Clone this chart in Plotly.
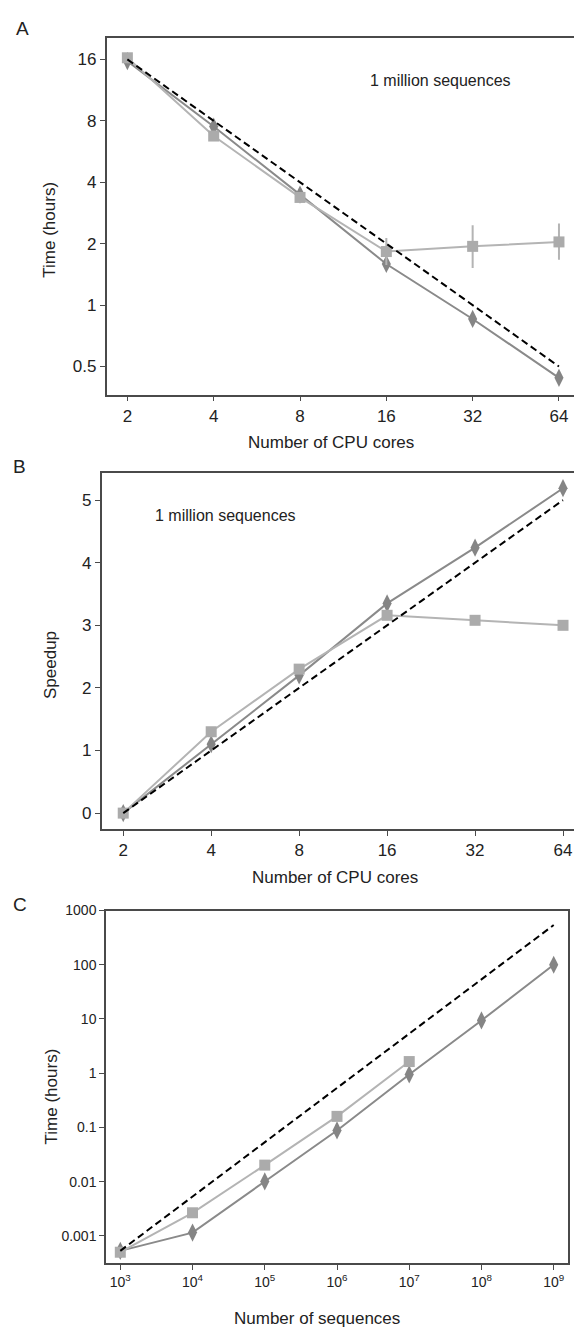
import plotly.graph_objects as go

# ---------------- data ----------------
cores = [2, 4, 8, 16, 32, 64]
core_labels = ["2", "4", "8", "16", "32", "64"]

# Panel A: time (hours), 1 million sequences
timeA_dark = [15.7, 7.5, 3.48, 1.59, 0.855, 0.44]
timeA_light = [16.3, 6.74, 3.37, 1.83, 1.94, 2.04]
timeA_light_err_plus = [0, 0, 0, 0.30, 0.52, 0.47]
timeA_light_err_minus = [0, 0, 0, 0.26, 0.42, 0.37]
timeA_ideal = [16, 8, 4, 2, 1, 0.5]
yA_ticks = [0.5, 1, 2, 4, 8, 16]
yA_labels = ["0.5", "1", "2", "4", "8", "16"]

# Panel B: speedup
speedB_dark = [0, 1.1, 2.2, 3.35, 4.24, 5.19]
speedB_light = [0, 1.3, 2.3, 3.16, 3.08, 3.0]
speedB_ideal = [0, 1, 2, 3, 4, 5]
yB_ticks = [0, 1, 2, 3, 4, 5]

# Panel C: time vs number of sequences
seqs = [1e3, 1e4, 1e5, 1e6, 1e7, 1e8, 1e9]
seq_labels = ["10<sup>3</sup>", "10<sup>4</sup>", "10<sup>5</sup>", "10<sup>6</sup>",
              "10<sup>7</sup>", "10<sup>8</sup>", "10<sup>9</sup>"]
timeC_dark = [0.00053, 0.00115, 0.0101, 0.088, 0.95, 9.4, 100]
seqs_light = [1e3, 1e4, 1e5, 1e6, 1e7]
timeC_light = [0.0005, 0.00267, 0.0202, 0.16, 1.64]
seqs_ideal = [1e3, 1e9]
timeC_ideal = [0.00053, 540]
yC_ticks = [0.001, 0.01, 0.1, 1, 10, 100, 1000]
yC_labels = ["0.001", "0.01", "0.1", "1", "10", "100", "1000"]

# ---------------- style ----------------
W, H = 575, 1329
FONT = "Liberation Sans, Arial, sans-serif"
DARK = "#8a8a8a"
LIGHT = "#b4b4b4"
DARK_M = "#858585"
LIGHT_M = "#ababab"
AXC = "#4a4a4a"


def px(x):
    return x / W


def py(y):
    return 1 - y / H


fig = go.Figure()


def add_panel(xs, dark, light, ideal, xref, yref, xs_light=None, xs_ideal=None, err=None):
    xs_light = xs if xs_light is None else xs_light
    xs_ideal = xs if xs_ideal is None else xs_ideal
    fig.add_trace(go.Scatter(
        x=xs, y=dark, mode="lines+markers", xaxis=xref, yaxis=yref,
        line=dict(color=DARK, width=2),
        marker=dict(symbol="diamond-tall", size=13, color=DARK_M),
        showlegend=False, cliponaxis=False))
    tr = dict(
        x=xs_light, y=light, mode="lines+markers", xaxis=xref, yaxis=yref,
        line=dict(color=LIGHT, width=2),
        marker=dict(symbol="square", size=11, color=LIGHT_M),
        showlegend=False, cliponaxis=False)
    if err is not None:
        tr["error_y"] = dict(type="data", array=err[0], arrayminus=err[1],
                             color=LIGHT, thickness=2, width=0, symmetric=False)
    fig.add_trace(go.Scatter(**tr))
    fig.add_trace(go.Scatter(
        x=xs_ideal, y=ideal, mode="lines", xaxis=xref, yaxis=yref,
        line=dict(color="black", width=2, dash="7px,4px"),
        showlegend=False, cliponaxis=False))


add_panel(cores, timeA_dark, timeA_light, timeA_ideal, "x", "y",
          err=(timeA_light_err_plus, timeA_light_err_minus))
add_panel(cores, speedB_dark, speedB_light, speedB_ideal, "x2", "y2")
add_panel(seqs, timeC_dark, timeC_light, timeC_ideal, "x3", "y3",
          xs_light=seqs_light, xs_ideal=seqs_ideal)

axis_common = dict(showgrid=False, zeroline=False, showline=True, linecolor=AXC,
                   linewidth=1.5, ticks="outside", ticklen=5, tickwidth=1.3,
                   tickcolor=AXC, color="#222")

layout = dict(
    width=W, height=H, autosize=False,
    margin=dict(l=0, r=0, t=0, b=0, pad=0),
    paper_bgcolor="white", plot_bgcolor="white",
    font=dict(family=FONT, color="#222", size=16),
    xaxis=dict(**axis_common, type="log", domain=[px(106.5), px(574)], anchor="y",
               range=[0.2282, 1.8586], tickvals=cores, ticktext=core_labels,
               mirror=True, tickfont=dict(size=17)),
    yaxis=dict(**axis_common, type="log", domain=[py(389), py(30)], anchor="x",
               range=[-0.439, 1.310], tickvals=yA_ticks, ticktext=yA_labels,
               tickfont=dict(size=17)),
    xaxis2=dict(**axis_common, type="log", domain=[px(101.7), px(574)], anchor="y2",
                range=[0.2273, 1.8438], tickvals=cores, ticktext=core_labels,
                mirror=True, tickfont=dict(size=17)),
    yaxis2=dict(**axis_common, domain=[py(826), py(468)], anchor="x2",
                range=[-0.254, 5.43], tickvals=yB_ticks, tickfont=dict(size=17)),
    xaxis3=dict(**axis_common, type="log", domain=[px(106), px(568)], anchor="y3",
                range=[2.802, 9.198], tickvals=seqs, ticktext=seq_labels,
                mirror=True, tickfont=dict(size=14)),
    yaxis3=dict(**axis_common, type="log", domain=[py(1263), py(908)], anchor="x3",
                range=[-3.507, 3.0], tickvals=yC_ticks, ticktext=yC_labels,
                mirror=True, tickfont=dict(size=14)),
)
fig.update_layout(**layout)


def ann(text, x, y, size=17, angle=0, xanchor="center"):
    fig.add_annotation(text=text, x=px(x), y=py(y), xref="paper", yref="paper",
                       showarrow=False, xanchor=xanchor, yanchor="middle",
                       textangle=angle, font=dict(size=size, family=FONT, color="#222"))


# panel letters
ann("A", 22, 21, size=19)
ann("B", 19, 461, size=19)
ann("C", 20, 902, size=19)
# axis titles
ann("Number of CPU cores", 331, 437)
ann("Number of CPU cores", 335, 875)
ann("Number of sequences", 317, 1318)
ann("Time (hours)", 50, 223, angle=-90)
ann("Speedup", 50, 661, angle=-90)
ann("Time (hours)", 51, 1095, angle=-90)
# in-plot labels
ann("1 million sequences", 368, 73, size=16, xanchor="left")
ann("1 million sequences", 153, 511, size=16, xanchor="left")

fig.write_html("out.html", config={"displayModeBar": False},
               post_script="document.body.style.margin='0';")
